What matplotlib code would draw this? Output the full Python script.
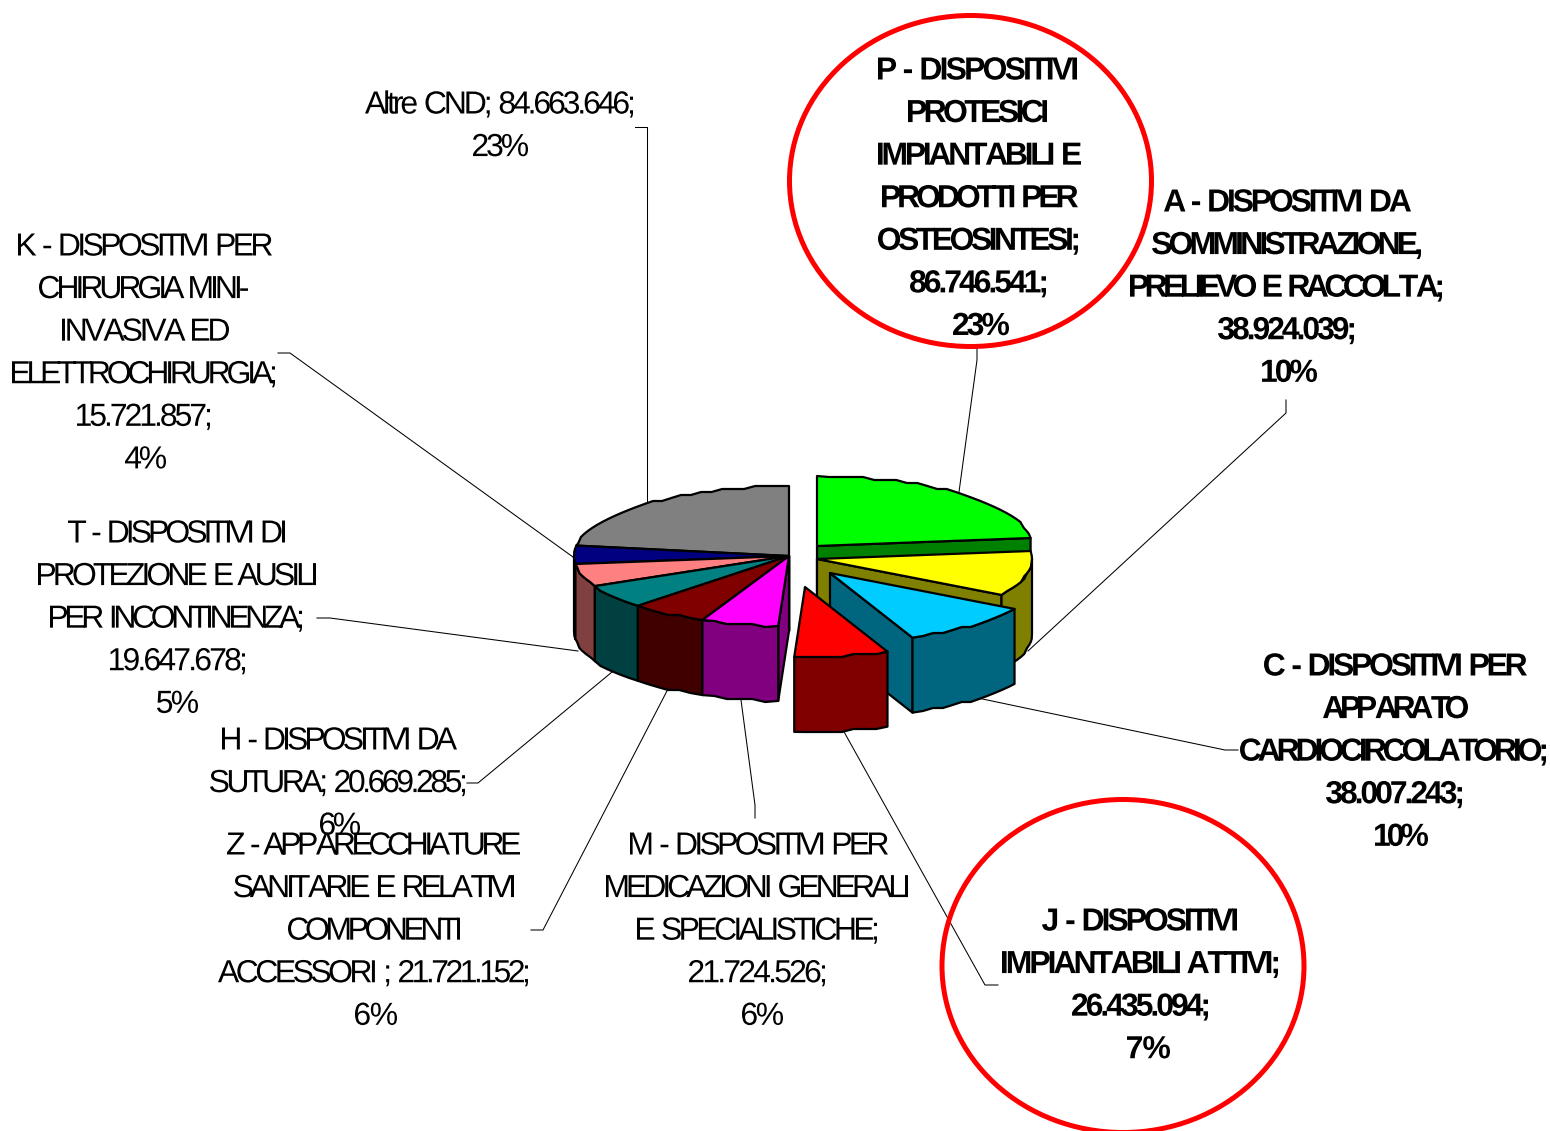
import numpy as np
import matplotlib
matplotlib.use('Agg')
import matplotlib.pyplot as plt
from matplotlib.patches import Polygon, Ellipse
from matplotlib.patheffects import AbstractPathEffect
from matplotlib.path import Path
from matplotlib.transforms import IdentityTransform

# Data: clockwise from 12 o'clock
values = [86746541, 38924039, 38007243, 26435094, 21724526,
          21721152, 20669285, 19647678, 15721857, 84663646]
top_colors = ['#00FF00', '#FFFF00', '#00CCFF', '#FF0000', '#FF00FF',
              '#800000', '#008080', '#FF8080', '#000080', '#808080']
side_colors = ['#008000', '#808000', '#006680', '#800000', '#800080',
               '#400000', '#004040', '#804040', '#000040', '#404040']
labels = [
    'P - DISPOSITIVI\nPROTESICI\nIMPIANTABILI E\nPRODOTTI PER\nOSTEOSINTESI;\n86.746.541;\n23%',
    'A - DISPOSITIVI DA\nSOMMINISTRAZIONE,\nPRELIEVO E RACCOLTA;\n38.924.039;\n10%',
    'C - DISPOSITIVI PER\nAPPARATO\nCARDIOCIRCOLATORIO;\n38.007.243;\n10%',
    'J - DISPOSITIVI\nIMPIANTABILI ATTIVI;\n26.435.094;\n7%',
    'M - DISPOSITIVI PER\nMEDICAZIONI GENERALI\nE SPECIALISTICHE;\n21.724.526;\n6%',
    'Z - APPARECCHIATURE\nSANITARIE E RELATIVI\nCOMPONENTI\nACCESSORI ; 21.721.152;\n6%',
    'H - DISPOSITIVI DA\nSUTURA; 20.669.285;\n6%',
    'T - DISPOSITIVI DI\nPROTEZIONE E AUSILI\nPER INCONTINENZA;\n19.647.678;\n5%',
    'K - DISPOSITIVI PER\nCHIRURGIA MINI-\nINVASIVA ED\nELETTROCHIRURGIA;\n15.721.857;\n4%',
    'Altre CND; 84.663.646;\n23%',
]
bold_labels = [True, True, True, True, False, False, False, False, False, False]


class Tighten(AbstractPathEffect):
    # the original text has overlapping letters: close up the glyphs of each
    # line until it spans the pixels (left, right) seen in the chart
    def __init__(self, spans):
        self.spans = spans
        self.line = 0

    def draw_path(self, renderer, gc, tpath, affine, rgbFace=None):
        left, width = self.spans[self.line % len(self.spans)]
        self.line += 1
        verts = affine.transform(tpath.vertices)
        codes = tpath.codes
        moves = np.flatnonzero(codes == Path.MOVETO)
        stops = np.append(moves[1:], len(codes))
        glyph = -1
        right = -np.inf
        shift = np.zeros(len(verts))
        lo, hi = np.inf, -np.inf
        for m, s in zip(moves, stops):
            keep = codes[m:s] != Path.CLOSEPOLY
            x0, x1 = verts[m:s][keep, 0].min(), verts[m:s][keep, 0].max()
            if x0 >= right:
                glyph += 1
            right = max(right, x1)
            lo, hi = min(lo, x0), max(hi, x1)
            shift[m:s] = glyph
        k = (hi - lo - width) / max(glyph, 1)
        verts[:, 0] += left - lo - k * shift
        renderer.draw_path(gc, Path(verts, codes), IdentityTransform(), rgbFace)


fig = plt.figure(figsize=(15.5, 11.31), dpi=100)
ax = fig.add_axes([0, 0, 1, 1])
ax.set_xlim(0, 1550)
ax.set_ylim(1131, 0)
ax.axis('off')

# Pie geometry in pixels
rx, ry, depth = 215, 70, 75
apex = [(817, 546), (817, 559), (830, 573), (805, 587), (789, 556),
        (789, 556), (789, 556), (789, 556), (789, 556), (789, 556)]
draw_order = [0, 1, 2, 9, 8, 7, 6, 5, 4, 3]

shares = np.array(values) / sum(values) * 360
ends = np.cumsum(shares)
starts = ends - shares


def rim(cx, cy, a0, a1):
    # outer arc, with the coarse wobble of the old rendering
    n = max(int((a1 - a0) / 3), 1)
    a = np.radians(np.linspace(a0, a1, n + 1))
    x = cx + rx * np.sin(a)
    y = cy - ry * np.cos(a)
    y[1:-1] = np.round(y[1:-1] / 3) * 3
    return np.column_stack([x, y])


def face(pts, color, z):
    ax.add_patch(Polygon(pts, closed=True, facecolor=color, edgecolor='black',
                         linewidth=1.6, joinstyle='round', zorder=z))


z = 2
for i in draw_order:
    cx, cy = apex[i]
    a0, a1 = starts[i], ends[i]
    if np.sin(np.radians(a1)) > 0:
        e = rim(cx, cy, a1, a1)[0]
        face([(cx, cy), e, e + (0, depth), (cx, cy + depth)], side_colors[i], z)
    if np.sin(np.radians(a0)) < 0:
        s = rim(cx, cy, a0, a0)[0]
        face([(cx, cy), s, s + (0, depth), (cx, cy + depth)], side_colors[i], z)
    b0, b1 = max(a0, 90), min(a1, 270)
    if b1 > b0:
        edge = rim(cx, cy, b0, b1)
        face(np.vstack([edge, (edge + (0, depth))[::-1]]), side_colors[i], z)
    face(np.vstack([[(cx, cy)], rim(cx, cy, a0, a1)]), top_colors[i], z)
    z += 1

# Leader lines
leaders = [
    [(959, 492), (977, 360), (977, 348)],
    [(1028, 651), (1286, 413), (1286, 400)],
    [(973, 697), (1225, 750), (1238, 750)],
    [(843, 730), (985, 985), (998, 985)],
    [(741, 700), (755, 805), (755, 818)],
    [(668, 689), (543, 930), (531, 930)],
    [(612, 672), (478, 783), (467, 783)],
    [(578, 651), (330, 618), (317, 618)],
    [(573, 557), (290, 353), (278, 353)],
    [(647, 502), (647, 127), (635, 127)],
]
for pts in leaders:
    xs, ys = zip(*pts)
    ax.plot(xs, ys, color='black', lw=0.75, zorder=1)

# Label blocks: centre x, top of first line, then (left, width) of every line
label_pos = [(978, 56.5), (1287, 188.5), (1395, 652.5), (1140, 907.5), (758, 831.5),
             (374, 831.5), (338, 726.5), (177, 519.5), (144, 232.5), (499, 90.5)]
line_spans = [
    [(878, 199), (908, 139), (878, 203), (882, 196), (878, 200), (910, 136), (953, 56)],
    [(1164, 247), (1152, 269), (1130, 312), (1218, 136), (1262, 55)],
    [(1264, 263), (1323, 145), (1240, 306), (1326, 136), (1375, 53)],
    [(1042, 195), (1002, 276), (1072, 136), (1127, 43)],
    [(630, 258), (606, 302), (637, 240), (689, 136), (742, 41)],
    [(227, 293), (234, 280), (288, 172), (218, 310), (355, 42)],
    [(222, 235), (210, 255), (320, 40)],
    [(68, 217), (38, 278), (50, 252), (110, 135), (157, 41)],
    [(18, 254), (39, 209), (62, 167), (12, 263), (77, 133), (125, 41)],
    [(365, 268), (473, 55)],
]
for txt, (x, y), b, spans in zip(labels, label_pos, bold_labels, line_spans):
    ax.text(x, y, txt, ha='center', va='top', multialignment='center',
            family='Liberation Sans', fontsize=23,
            fontweight='bold' if b else 'normal', color='black',
            linespacing=1.547, zorder=20,
            path_effects=[Tighten(spans)])

# Red highlight rings
for c, w, h in [((970.5, 181), 362, 331), ((1123, 966), 362, 333)]:
    ax.add_patch(Ellipse(c, w, h, facecolor='none', edgecolor='#FF0000',
                         linewidth=3.6, zorder=25, clip_on=False))

fig.savefig('out.png', dpi=100, facecolor='white')
